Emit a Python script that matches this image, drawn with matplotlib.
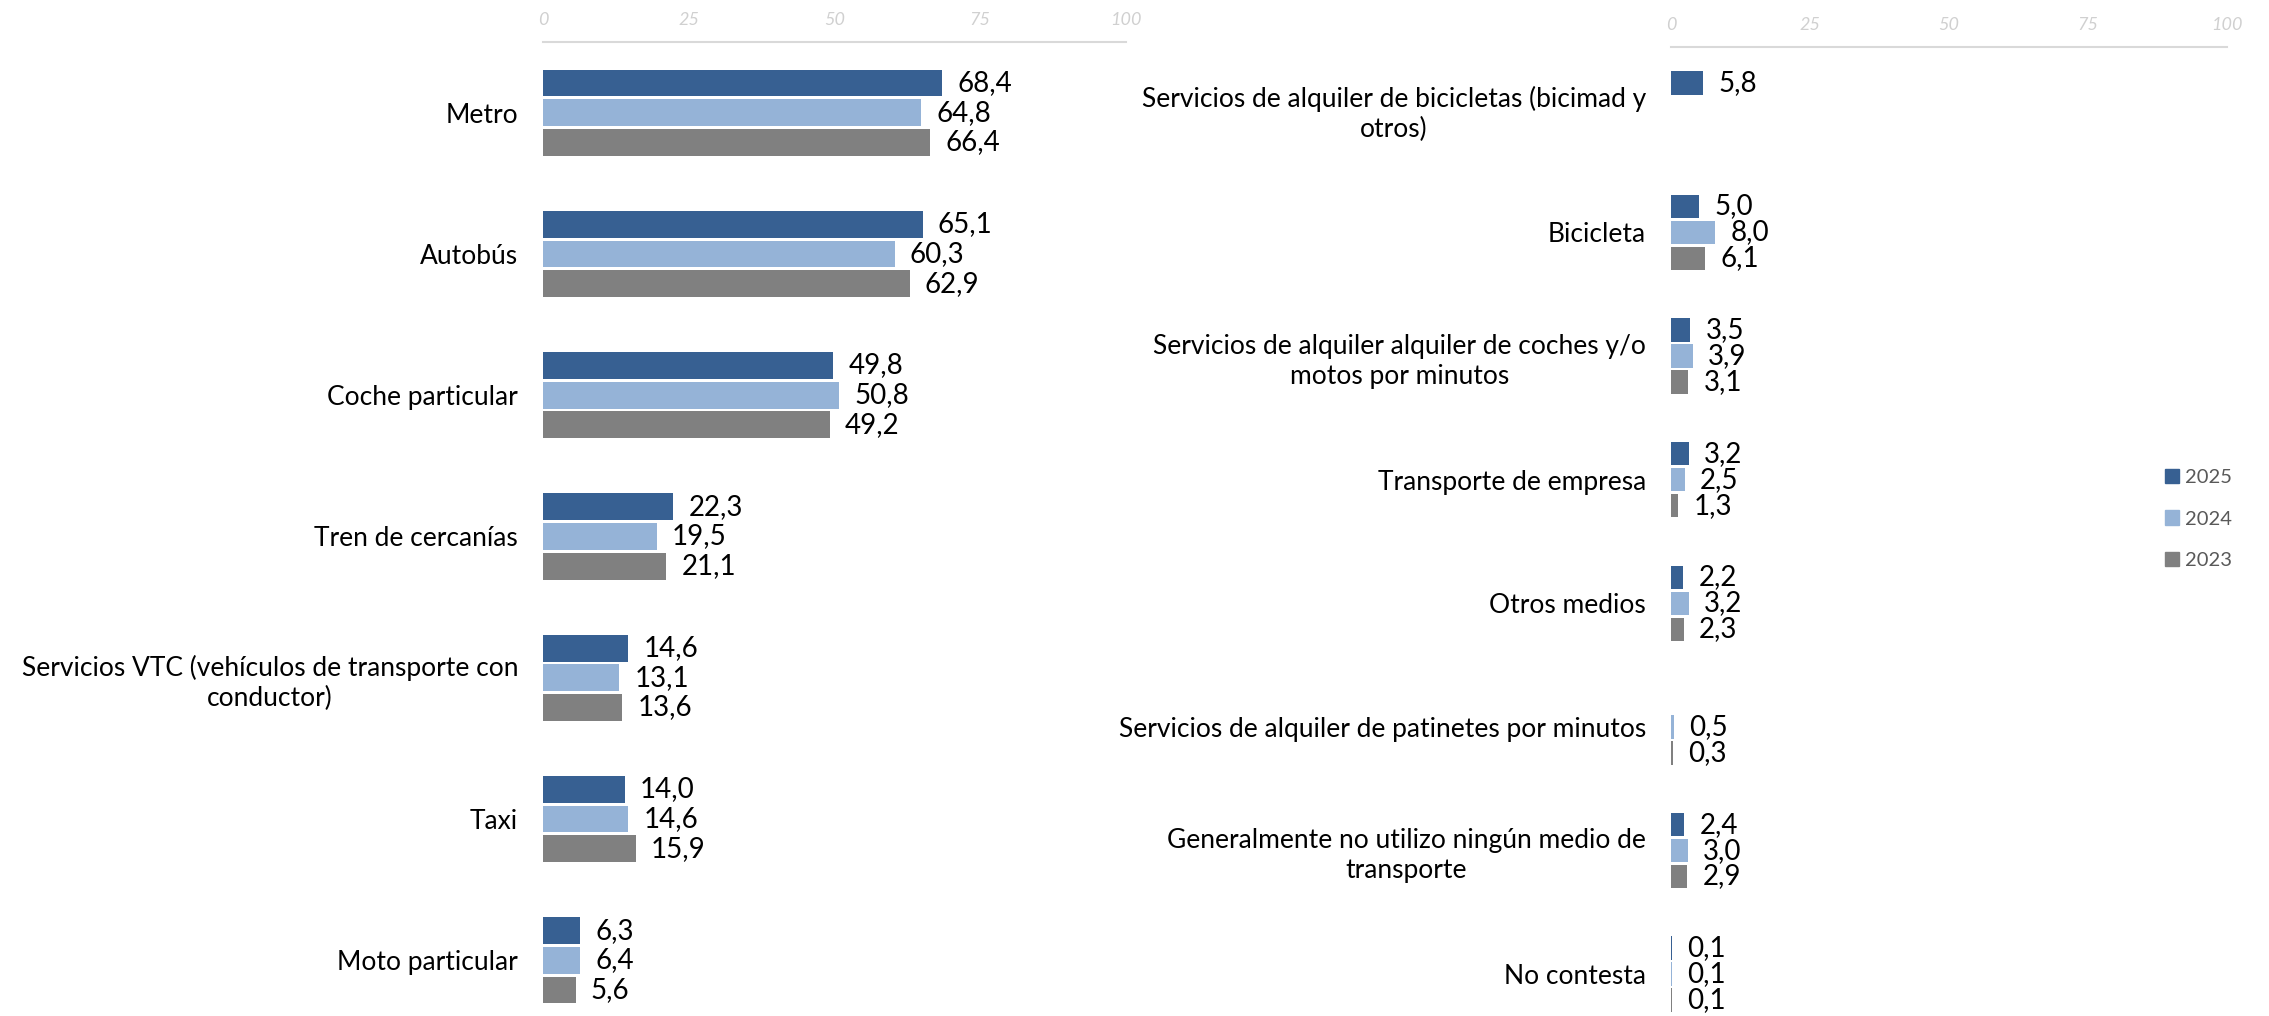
import numpy as np
import matplotlib.pyplot as plt
from matplotlib.patches import Patch

plt.rcParams['font.family'] = ['Lato', 'DejaVu Sans']

# Data (percent)
years = ['2025', '2024', '2023']
colors = {'2025': '#376092', '2024': '#95B3D7', '2023': '#808080'}

left_cats = ['Metro', 'Autobús', 'Coche particular', 'Tren de cercanías',
             'Servicios VTC (vehículos de transporte con\nconductor)', 'Taxi',
             'Moto particular']
left_2025 = [68.4, 65.1, 49.8, 22.3, 14.6, 14.0, 6.3]
left_2024 = [64.8, 60.3, 50.8, 19.5, 13.1, 14.6, 6.4]
left_2023 = [66.4, 62.9, 49.2, 21.1, 13.6, 15.9, 5.6]

right_cats = ['Servicios de alquiler de bicicletas (bicimad y\notros)', 'Bicicleta',
              'Servicios de alquiler alquiler de coches y/o\nmotos por minutos',
              'Transporte de empresa', 'Otros medios',
              'Servicios de alquiler de patinetes por minutos',
              'Generalmente no utilizo ningún medio de\ntransporte', 'No contesta']
right_2025 = [5.8, 5.0, 3.5, 3.2, 2.2, None, 2.4, 0.1]
right_2024 = [None, 8.0, 3.9, 2.5, 3.2, 0.5, 3.0, 0.1]
right_2023 = [None, 6.1, 3.1, 1.3, 2.3, 0.3, 2.9, 0.1]

W, H = 2269, 1016
fig = plt.figure(figsize=(W / 100, H / 100), dpi=100)

ax_l = fig.add_axes([543 / W, 1 - 1031 / H, 583 / W, 989 / H])
ax_r = fig.add_axes([1671 / W, 1 - 1036 / H, 556 / W, 989 / H])


def draw_panel(ax, cats, series):
    pos = np.arange(len(cats))
    step = 0.21
    for i, (year, vals) in enumerate(zip(years, series)):
        vals = np.array([np.nan if v is None else v for v in vals], dtype=float)
        bars = ax.barh(pos + (i - 1) * step, np.nan_to_num(vals), height=0.19,
                       color=colors[year], linewidth=0)
        labels = ['' if np.isnan(v) else f'{v:.1f}'.replace('.', ',') for v in vals]
        ax.bar_label(bars, labels=labels, padding=11, fontsize=20, color='black')
    ax.set_yticks(pos)
    ax.set_yticklabels(cats, fontsize=19, ha='right', multialignment='center',
                       linespacing=1.25)
    ax.set_ylim(len(cats) - 0.5, -0.5)
    ax.set_xlim(0, 100)
    ax.set_xticks([0, 25, 50, 75, 100])
    ax.xaxis.tick_top()
    ax.tick_params(axis='x', length=0, pad=10, labelsize=13, labelcolor='#D0D0D0')
    for t in ax.get_xticklabels():
        t.set_fontstyle('italic')
    ax.tick_params(axis='y', length=0, pad=18)
    for s in ['bottom', 'left', 'right']:
        ax.spines[s].set_visible(False)
    ax.spines['top'].set_color('#D9D9D9')
    ax.spines['top'].set_linewidth(1.5)


draw_panel(ax_l, left_cats, [left_2025, left_2024, left_2023])
draw_panel(ax_r, right_cats, [right_2025, right_2024, right_2023])

handles = [Patch(color=colors[y], label=y) for y in years]
fig.legend(handles=handles, loc='center left', bbox_to_anchor=(2165 / W, 1 - 519 / H),
           frameon=False, fontsize=14.5, labelcolor='#595959', borderpad=0,
           borderaxespad=0, handlelength=0.7, handleheight=0.7,
           handletextpad=0.3, labelspacing=1.2)

plt.savefig('out.png', dpi=100)
